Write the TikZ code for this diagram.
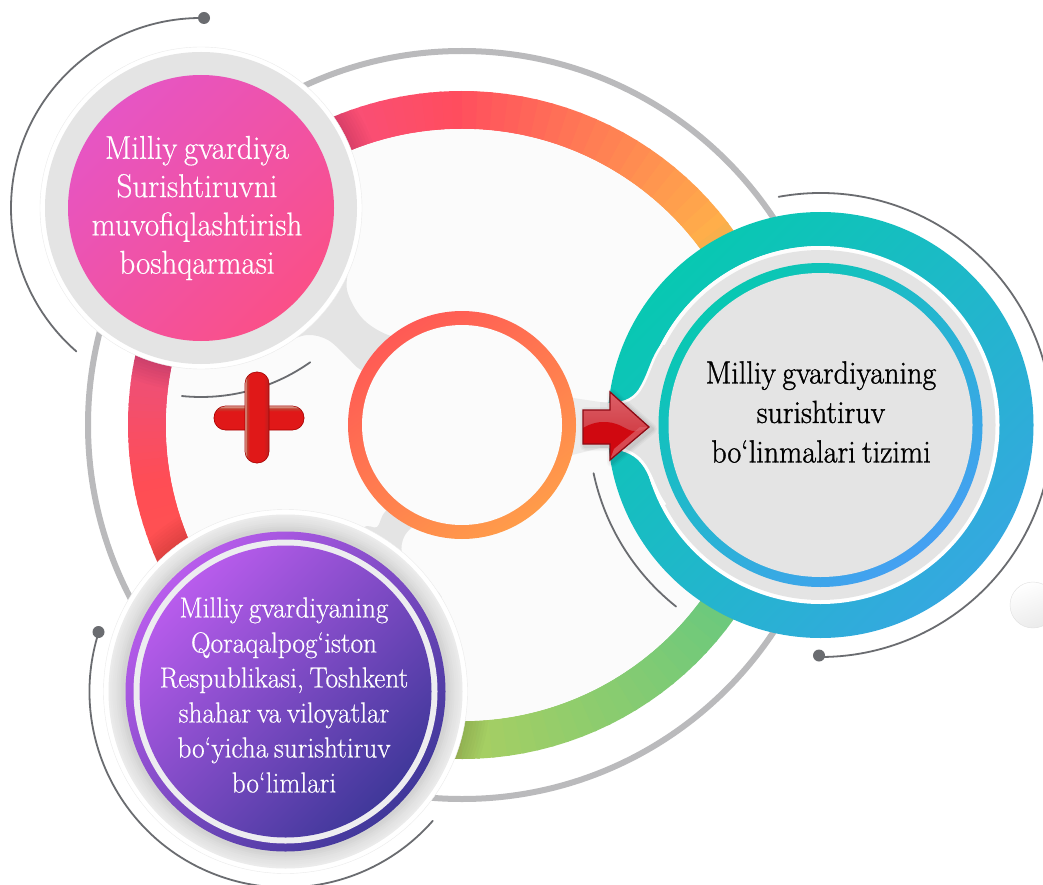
\documentclass[tikz,border=0pt]{standalone}
\usepackage{fontspec}
\usetikzlibrary{calc}
\newfontfamily\dd[FakeBold=0.5,FakeStretch=0.94,WordSpace=0.7]{Latin Modern Roman}
\newfontfamily\ddb[FakeBold=1.1,FakeStretch=0.94,WordSpace=0.7]{Latin Modern Roman}
\definecolor{halo}{HTML}{E4E4E4}
\definecolor{disc}{HTML}{FBFBFB}
\definecolor{arcgray}{HTML}{6A6C70}
\definecolor{ringgray}{HTML}{BABABC}
\definecolor{s1}{HTML}{FFAE4A}
\definecolor{s2}{HTML}{FF4D5E}
\definecolor{s3}{HTML}{F5508A}
\definecolor{s4}{HTML}{EA5080}
\definecolor{s5}{HTML}{FF4D55}
\definecolor{s6}{HTML}{FF5A4A}
\definecolor{s7}{HTML}{A8CF62}
\definecolor{s8}{HTML}{6DC97C}
\definecolor{HTMLa}{HTML}{FF5A55}
\definecolor{HTMLb}{HTML}{FF9C4A}
\definecolor{pinka}{HTML}{E655C4}
\definecolor{pinkb}{HTML}{FA5088}
\definecolor{purpa}{HTML}{B85CEC}
\definecolor{purpb}{HTML}{40389A}
\definecolor{teala}{HTML}{08C8B2}
\definecolor{tealb}{HTML}{35A8E0}
\definecolor{bluec}{HTML}{45A0F2}
\definecolor{hA}{HTML}{EBEBEB}
\definecolor{hB}{HTML}{C8C8C8}
\definecolor{plusb}{HTML}{E4B8A8}
\definecolor{plusc}{HTML}{E01818}
\definecolor{plusd}{HTML}{C04030}
\definecolor{pluse}{HTML}{B82020}
\definecolor{arrowa}{HTML}{DC6068}
\definecolor{arrowb}{HTML}{D24048}
\definecolor{arrowc}{HTML}{D00810}
\definecolor{arrowd}{HTML}{8E0A14}
\definecolor{pring}{HTML}{EDEDF0}
\pgfdeclareverticalshading{plush}{100bp}{color(0bp)=(plusc); color(64bp)=(plusc); color(70bp)=(plusd); color(75bp)=(plusb); color(100bp)=(plusb)}
\pgfdeclarehorizontalshading{plusv}{100bp}{color(0bp)=(plusb); color(25bp)=(plusb); color(29bp)=(plusd); color(35bp)=(plusc); color(64bp)=(plusc); color(75bp)=(pluse); color(100bp)=(pluse)}
\tikzset{
  arcline/.style={draw=arcgray,line width=1.8pt,line cap=round},
  enddot/.style={fill=arcgray},
  armfill/.style={fill=halo},
  whitetext/.style={text=white,align=center},
  plusrim/.style={draw=red!65!black,line width=.6pt},
}
\begin{document}
\begin{tikzpicture}[x=1pt,y=-1pt]
\useasboundingbox (0,0) rectangle (1043,885);
\clip (0,0) rectangle (1043,885);
\fill[white] (0,0) rectangle (1043,885);
\coordinate (bc) at (462,425);
\coordinate (pk) at (201,208);
\coordinate (rt) at (820.5,425);
\coordinate (pu) at (285.5,691.5);
% outer grey ring
\draw[ringgray,line width=6pt] (bc) circle (374);
% conic ring
\foreach \sa/\sb/\ca/\cb in {37/90/s1/s2,90/125/s2/s3,125/165/s3/s4,165/190/s4/s5,190/225/s5/s6,225/270/s6/s7,270/322/s7/s8,322/397/s8/s1}{
  \foreach \t in {0,...,19}{
    \pgfmathsetmacro\ang{\sa+(\sb-\sa)*\t/20}
    \pgfmathsetmacro\mixv{100-5*\t}
    \pgfmathsetmacro\stp{(\sb-\sa)/20+0.5}
    \draw[color=\ca!\mixv!\cb,line width=38pt] (bc) ++(-\ang:315) arc[start angle=-\ang,end angle=-\ang-\stp,radius=315];
  }
}
% shadows on the ring
\begin{scope}[even odd rule]
  \clip (bc) circle (334) (bc) circle (296);
  \foreach \r in {163,166,...,184}{\fill[black,opacity=.016] (pk) circle (\r);}
  \foreach \r in {184,187,...,205}{\fill[black,opacity=.016] (pu) circle (\r);}
\end{scope}
\fill[disc] (bc) circle (296);
% grey arms
\path[armfill] plot[smooth cycle,tension=.55] coordinates {(330,235) (348,258) (347,290) (362,318) (388,335) (430,345) (400,390) (361,370) (347,357) (328,340) (307,335) (280,343) (250,345)};
\path[armfill] plot[smooth cycle,tension=.55] coordinates {(340,560) (363,528) (377,527) (385,512) (410,490) (440,510) (415,525) (404,537) (402,553) (413,573) (442,600) (400,630)};
\path[fill=halo!70!white] (560,396) -- (600,402) -- (620,402) -- (620,448) -- (600,448) -- (560,458) -- cycle;
% thin arcs over the disc
\draw[arcline] (pk) ++(95.8:189) arc[start angle=95.8,end angle=54.7,radius=189];
\draw[arcline] (rt) ++(168:232) arc[start angle=168,end angle=128.5,radius=232];
% centre ring
\shade[top color=HTMLa,bottom color=HTMLb,shading angle=35] (bc) circle (114);
\fill[disc] (bc) circle (100);
% pink
\fill[white] (pk) circle (161);
\draw[black!8,line width=.4pt] (pk) circle (161);
\fill[halo] (pk) circle (156);
\shade[top color=pinka,bottom color=pinkb,shading angle=45] (pk) circle (133);
% purple
\fill[white] (pu) circle (182);
\draw[black!8,line width=.4pt] (pu) circle (182);
\foreach \r/\m in {177/0,175/8,173/16,171/24,169/34,167/44,165/56,163/70}{\fill[hB!\m!hA] (pu) circle (\r);}
\shade[top color=purpa,bottom color=purpb,shading angle=45] (pu) circle (160);
\fill[pring] (pu) circle (152);
\shade[top color=purpa,bottom color=purpb,shading angle=45] (pu) circle (146);
% right circle
\shade[top color=teala,bottom color=tealb,shading angle=45] (rt) circle (213);
\fill[white] (rt) circle (179);
\draw[white!92!halo,line width=4pt] (rt) ++(-90:177) arc[start angle=-90,end angle=-200,radius=177];
\fill[halo] (rt) circle (175);
% notch
\fill[halo] (600,402) .. controls (620,406) and (636,398) .. (642,386) .. controls (650,372) and (652,358) .. (662,345) -- (700,345) -- (700,505) -- (665,505) .. controls (654,490) and (652,474) .. (642,462) .. controls (634,452) and (620,448) .. (600,448) -- cycle;
\draw[white!90!halo,line width=2.5pt] (612,403) .. controls (625,404) and (636,398) .. (642,386) .. controls (650,372) and (652,358) .. (662,345);
\draw[white,line width=3pt] (665,505) .. controls (654,490) and (652,474) .. (642,462) .. controls (634,452) and (620,448) .. (612,448);
\shade[top color=teala,bottom color=bluec,shading angle=40] (rt) circle (162);
\fill[halo] (rt) circle (152);
% small circle
\shade[left color=white,right color=black!8,shading angle=20,draw=black!12,line width=.4pt] (1033,605) circle (23);
% arcs
\draw[arcline] (pk) ++(-89:190) arc[start angle=-89,end angle=-229,radius=190];
\coordinate (d1) at (204,18);
\fill[enddot] (d1) circle (6);
\draw[arcline] (rt) ++(-100.4:232) arc[start angle=-100.4,end angle=90.2,radius=232];
\coordinate (d2) at (819,655.5);
\fill[enddot] (d2) circle (6);
\draw[arcline] (pu) ++(197.6:196) arc[start angle=197.6,end angle=41.3,radius=196];
\coordinate (d3) at (98.5,632);
\fill[enddot] (d3) circle (6);
% plus
\draw[plusrim,shading=plush,rounded corners=11.5pt] (214,406) rectangle (304,430);
\draw[plusrim,shading=plusv,rounded corners=11.5pt] (245,372) rectangle (269,463);
% arrow
\foreach \w/\o in {10/.03,7/.04,4/.05}{\draw[black,opacity=\o,line width=\w pt,line join=round] (585,412) -- (612,412) -- (612,394) -- (652,429) -- (612,462) -- (612,446) -- (585,446) -- cycle;}
\begin{scope}
  \clip (583,410) -- (610,410) -- (610,392) -- (649,427) -- (610,460) -- (610,444) -- (583,444) -- cycle;
  \shade[top color=arrowa,bottom color=arrowb] (583,392) rectangle (649,430);
  \fill[arrowc] (583,428) .. controls (600,418) and (615,422) .. (625,428) .. controls (635,434) and (642,430) .. (649,427) -- (649,460) -- (583,460) -- cycle;
  \fill[arrowa,opacity=.75] (610,460) -- (649,427) -- (640,427) -- (614,449) -- cycle;
\end{scope}
\draw[draw=arrowd,line width=1.3pt,line join=miter] (583,410) -- (610,410) -- (610,392) -- (649,427) -- (610,460) -- (610,444) -- (583,444) -- cycle;
% texts
\node[whitetext,font={\dd\fontsize{33}{38.3}\selectfont}] (tpink) at (197,208) {Milliy gvardiya\\Surishtiruvni\\muvofiqlashtirish\\boshqarmasi};
\node[align=center,font={\ddb\fontsize{32}{39.5}\selectfont}] (tright) at (821,412) {Milliy gvardiyaning\\surishtiruv\\bo‘linmalari tizimi};
\node[whitetext,font={\dd\fontsize{29}{35}\selectfont}] (tpurple) at (284,695) {Milliy gvardiyaning\\Qoraqalpog‘iston\\Respublikasi, Toshkent\\shahar va viloyatlar\\bo‘yicha surishtiruv\\bo‘limlari};
\end{tikzpicture}
\end{document}
